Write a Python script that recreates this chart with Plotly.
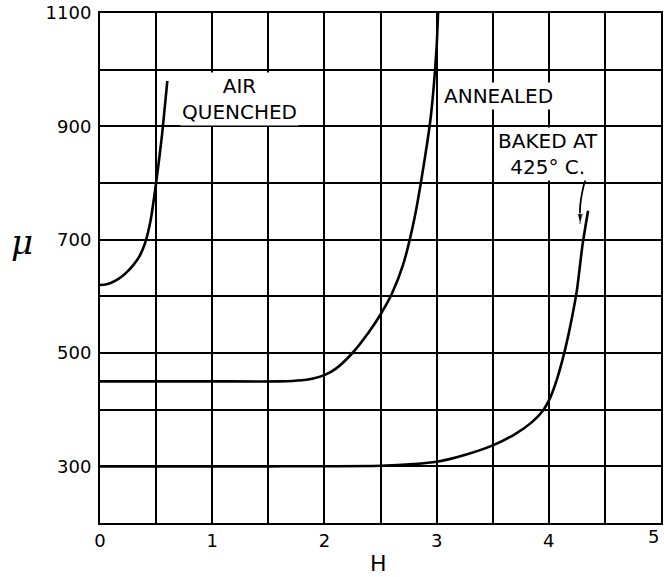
import plotly.graph_objects as go

# ---- data ----
air_x = [0, 0.05, 0.1, 0.15, 0.2, 0.25, 0.3, 0.35, 0.4, 0.45, 0.50, 0.55, 0.60]
air_y = [620, 621, 624, 629, 636, 645, 656, 670, 693, 733, 800, 880, 980]

ann_x = [0, 1.0, 1.6, 1.8, 1.9, 2.0, 2.1, 2.25, 2.4, 2.5, 2.6, 2.7, 2.8, 2.9, 2.95, 3.0, 3.013]
ann_y = [450, 450, 450, 452, 455, 461, 472, 500, 538, 568, 604, 655, 735, 850, 920, 1040, 1100]

bak_x = [0, 1.5, 2.5, 2.8, 3.0, 3.25, 3.5, 3.7, 3.85, 3.95, 4.01, 4.07, 4.14, 4.2, 4.25, 4.3, 4.35]
bak_y = [300, 300, 301, 304, 308, 320, 337, 357, 378, 399, 420, 452, 502, 556, 610, 690, 751]

arrow_x = [4.32, 4.35, 4.31, 4.28, 4.28]
arrow_y = [835, 823, 795, 760, 728]

x_ticks = [0, 0.5, 1, 1.5, 2, 2.5, 3, 3.5, 4, 4.5, 5]
x_labels = ["0", "", "1", "", "2", "", "3", "", "4", "", ""]
y_ticks = [200, 300, 400, 500, 600, 700, 800, 900, 1000, 1100]
y_labels = ["", "300", "", "500", "", "700", "", "900", "", "1100"]

FONT = "DejaVu Sans"

fig = go.Figure()
line = dict(color="black", width=2.6, shape="spline", smoothing=0.6)
fig.add_trace(go.Scatter(x=air_x, y=air_y, mode="lines", line=line, hoverinfo="skip"))
fig.add_trace(go.Scatter(x=ann_x, y=ann_y, mode="lines", line=line, hoverinfo="skip"))
fig.add_trace(go.Scatter(x=bak_x, y=bak_y, mode="lines", line=line, hoverinfo="skip"))
fig.add_trace(go.Scatter(x=arrow_x, y=arrow_y, mode="lines+markers",
                         line=dict(color="black", width=1.8, shape="spline"),
                         marker=dict(symbol="arrow", size=[0, 0, 0, 0, 11], color="black",
                                     angleref="previous"),
                         hoverinfo="skip"))

tf = dict(family=FONT, size=18, color="black")
lab = dict(family=FONT, size=20, color="black")
fig.add_annotation(x=1.24, y=948, text="AIR<br>QUENCHED", showarrow=False,
                   font=lab, bgcolor="white")
fig.add_annotation(x=3.55, y=953, text="ANNEALED", showarrow=False,
                   font=lab, bgcolor="white")
fig.add_annotation(x=3.99, y=851, text="BAKED AT<br>425° C.", showarrow=False,
                   font=lab, bgcolor="white")
fig.add_annotation(xref="paper", yref="paper", x=-0.139, y=0.551, text="<i>μ</i>",
                   xanchor="center", yanchor="middle",
                   showarrow=False, font=dict(family="DejaVu Serif", size=34, color="black"))
fig.add_annotation(xref="paper", yref="paper", x=0.497, y=-0.080, text="H",
                   xanchor="center", yanchor="middle",
                   showarrow=False, font=dict(family=FONT, size=22, color="black"))
fig.add_annotation(xref="x", yref="paper", x=5, y=-0.026, text="5",
                   xanchor="right", yanchor="middle", showarrow=False, font=tf)

axis_common = dict(showgrid=True, gridcolor="black", gridwidth=1.5,
                   showline=True, linecolor="black", linewidth=2, mirror=True,
                   zeroline=False, ticks="", tickfont=tf)
fig.update_xaxes(range=[0, 5], tickmode="array", tickvals=x_ticks, ticktext=x_labels,
                 **axis_common)
fig.update_yaxes(range=[200, 1100], tickmode="array", tickvals=y_ticks, ticktext=y_labels,
                 ticklabelstandoff=3, **axis_common)

fig.update_layout(width=664, height=577, margin=dict(l=100, r=1, t=13, b=54),
                  plot_bgcolor="white", paper_bgcolor="white", showlegend=False)
fig.write_html("out.html")
